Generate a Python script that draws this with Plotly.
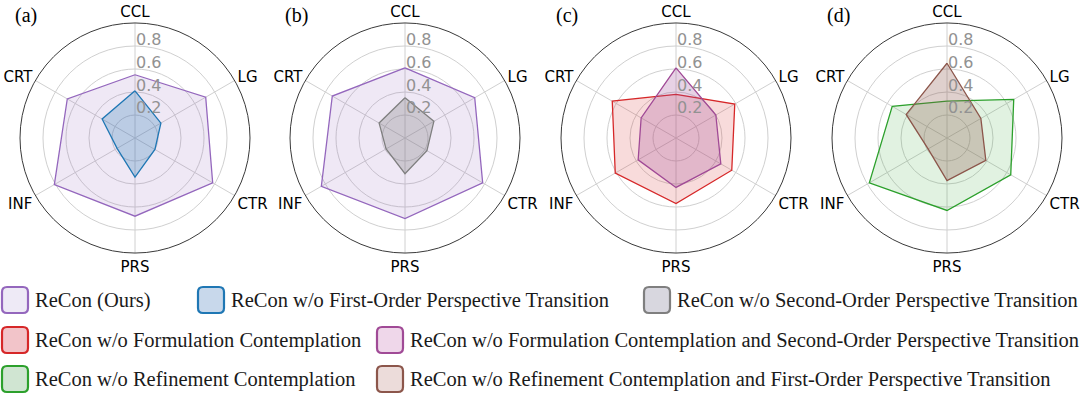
import plotly.graph_objects as go

categories = ["CCL", "LG", "CTR", "PRS", "INF", "CRT"]
radial_ticks = [0.2, 0.4, 0.6, 0.8]
panel_labels = ["(a)", "(b)", "(c)", "(d)"]

recon_a = [0.55, 0.71, 0.78, 0.68, 0.81, 0.68]
wo_first = [0.41, 0.26, 0.20, 0.34, 0.18, 0.33]
recon_b = [0.61, 0.70, 0.78, 0.70, 0.84, 0.73]
wo_second = [0.35, 0.29, 0.22, 0.31, 0.19, 0.26]
wo_form = [0.38, 0.59, 0.56, 0.57, 0.61, 0.64]
wo_form_second = [0.61, 0.40, 0.45, 0.43, 0.38, 0.35]
wo_ref = [0.32, 0.67, 0.64, 0.63, 0.78, 0.55]
wo_ref_first = [0.65, 0.34, 0.39, 0.37, 0.19, 0.41]

names = {
    "recon": "ReCon (Ours)",
    "first": "ReCon w/o First-Order Perspective Transition",
    "second": "ReCon w/o Second-Order Perspective Transition",
    "form": "ReCon w/o Formulation Contemplation",
    "form_second": "ReCon w/o Formulation Contemplation and Second-Order Perspective Transition",
    "ref": "ReCon w/o Refinement Contemplation",
    "ref_first": "ReCon w/o Refinement Contemplation and First-Order Perspective Transition",
}
colors = {
    "recon": ("#9467bd", "rgba(148,103,189,0.15)", "#eeeaf6"),
    "first": ("#1f77b4", "rgba(31,119,180,0.25)", "#c8d8eb"),
    "second": ("#7f7f7f", "rgba(127,127,127,0.30)", "#d8d7df"),
    "form": ("#d62728", "rgba(214,39,40,0.17)", "#f2c4c9"),
    "form_second": ("#a04a96", "rgba(160,74,150,0.25)", "#efd7ea"),
    "ref": ("#2ca02c", "rgba(44,160,44,0.14)", "#d0e5d2"),
    "ref_first": ("#8c564b", "rgba(140,86,75,0.28)", "#ecdcda"),
}

panels = [
    [("recon", recon_a), ("first", wo_first)],
    [("recon", recon_b), ("second", wo_second)],
    [("form", wo_form), ("form_second", wo_form_second)],
    [("ref", wo_ref), ("ref_first", wo_ref_first)],
]

W, H = 1080, 394
centers_x = [135, 405, 676, 947]
center_y = 138
R = 115

fig = go.Figure()
layout = dict(width=W, height=H, margin=dict(l=0, r=0, t=0, b=0),
              paper_bgcolor="white", showlegend=False)
annotations = []

for i, panel in enumerate(panels):
    pid = "polar" if i == 0 else f"polar{i+1}"
    for key, vals in panel:
        lc, fc, _ = colors[key]
        fig.add_trace(go.Scatterpolar(
            r=vals + vals[:1], theta=categories + categories[:1],
            mode="lines", fill="toself", fillcolor=fc,
            line=dict(color=lc, width=1.3), name=names[key],
            subplot=pid, showlegend=False))
    cx = centers_x[i]
    layout[pid] = dict(
        domain=dict(x=[(cx - R) / W, (cx + R) / W],
                    y=[1 - (center_y + R) / H, 1 - (center_y - R) / H]),
        bgcolor="white",
        radialaxis=dict(range=[0, 1], tickvals=radial_ticks,
                        showticklabels=False, angle=90,
                        showline=False, ticks="",
                        gridcolor="#d0d0d0", gridwidth=1),
        angularaxis=dict(type="category", categoryarray=categories,
                         rotation=90, direction="clockwise",
                         showline=True, linecolor="#3a3a3a", linewidth=1,
                         gridcolor="#d0d0d0", gridwidth=1,
                         ticks="", ticklen=0,
                         tickfont=dict(family="DejaVu Sans", size=15, color="black")),
    )
    # radial tick labels, placed just above each grid ring along the CCL axis
    for v in radial_ticks:
        annotations.append(dict(text=f"{v:.1f}", x=cx / W, y=1 - (center_y - v * R - 7) / H,
                                xref="paper", yref="paper", showarrow=False,
                                xanchor="left", yanchor="middle", borderpad=0,
                                font=dict(family="DejaVu Sans", size=16, color="#929292")))

for i, lab in enumerate(panel_labels):
    annotations.append(dict(text=lab, x=(centers_x[i] - 109) / W, y=1 - 15 / H,
                            xref="paper", yref="paper", showarrow=False,
                            xanchor="center", yanchor="middle",
                            font=dict(family="Liberation Serif", size=20, color="black")))

legend_rows = [
    [(2, "recon"), (198, "first"), (644, "second")],
    [(2, "form"), (377, "form_second")],
    [(2, "ref"), (377, "ref_first")],
]
row_y = [300, 340, 379]
shapes = []
S = 26
rr = 5
for ry, row in zip(row_y, legend_rows):
    for x0, key in row:
        lc, _, lf = colors[key]
        x1 = x0 + S
        y0 = ry - S / 2
        y1 = ry + S / 2
        def px(x):
            return x / W
        def py(y):
            return 1 - y / H
        path = (f"M {px(x0+rr)},{py(y0)} L {px(x1-rr)},{py(y0)} Q {px(x1)},{py(y0)} {px(x1)},{py(y0+rr)} "
                f"L {px(x1)},{py(y1-rr)} Q {px(x1)},{py(y1)} {px(x1-rr)},{py(y1)} "
                f"L {px(x0+rr)},{py(y1)} Q {px(x0)},{py(y1)} {px(x0)},{py(y1-rr)} "
                f"L {px(x0)},{py(y0+rr)} Q {px(x0)},{py(y0)} {px(x0+rr)},{py(y0)} Z")
        shapes.append(dict(type="path", path=path, xref="paper", yref="paper",
                           fillcolor=lf, line=dict(color=lc, width=2.2)))
        annotations.append(dict(text=names[key], x=(x1 + 5) / W, y=1 - ry / H,
                                xref="paper", yref="paper", showarrow=False,
                                xanchor="left", yanchor="middle",
                                font=dict(family="Liberation Serif", size=20.5, color="#1a1a1a")))

layout["annotations"] = annotations
layout["shapes"] = shapes
fig.update_layout(**layout)
fig.write_html("out.html", config={"displayModeBar": False},
               post_script="document.body.style.margin='0px';")
